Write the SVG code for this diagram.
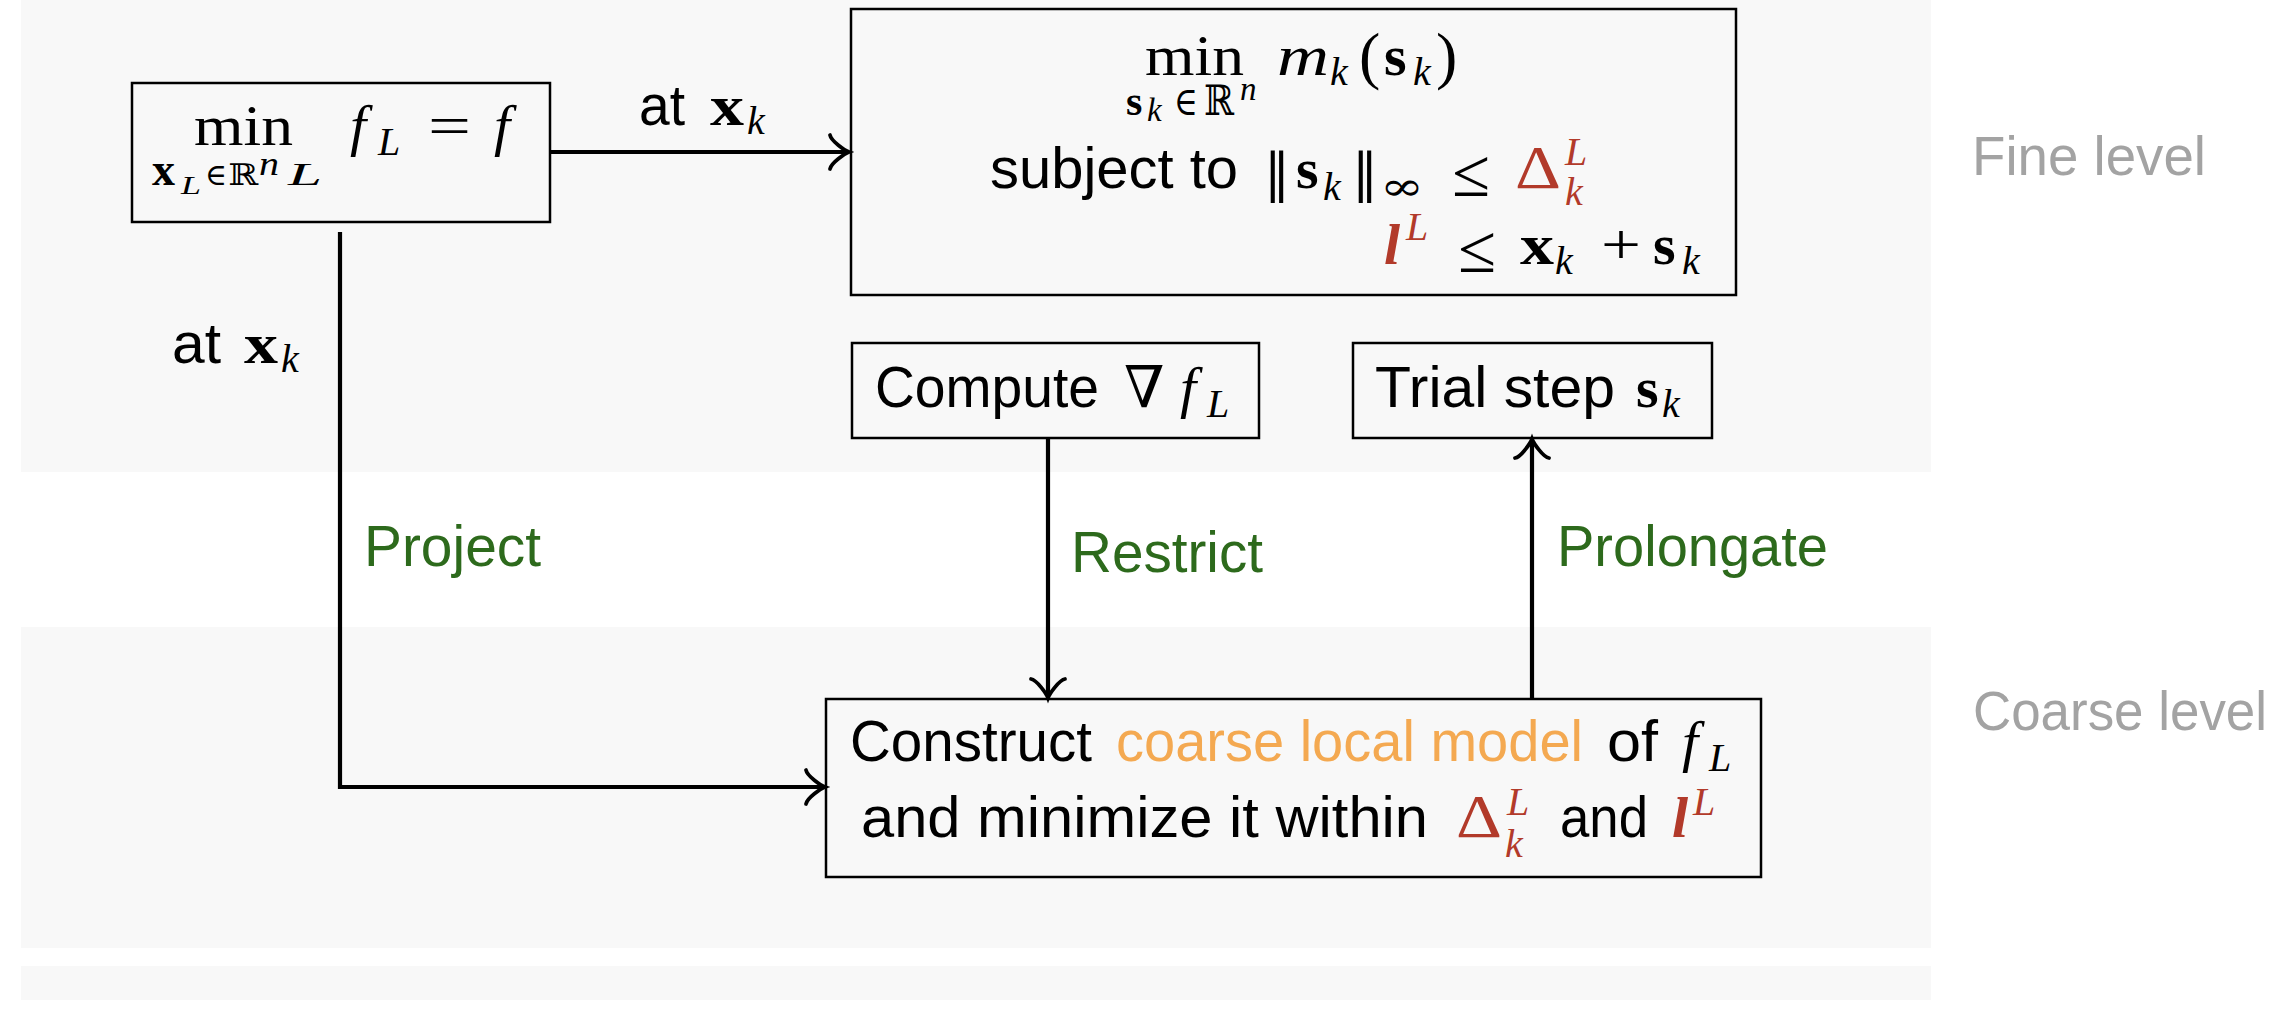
<svg xmlns="http://www.w3.org/2000/svg" width="2296" height="1018" viewBox="0 0 2296 1018">
<defs>
<style>
.band{fill:#f8f8f8}
.box{fill:none;stroke:#000;stroke-width:2.5}
.conn{fill:none;stroke:#000;stroke-width:4.2;stroke-linejoin:miter}
.s{font-family:"Liberation Sans",Arial,sans-serif;font-size:58px;fill:#000}
.lvl{font-family:"Liberation Sans",Arial,sans-serif;font-size:55px;fill:#a3a3a3}
.mi{font-family:"Liberation Serif","DejaVu Serif",serif;font-style:italic;font-size:58px;fill:#000}
.mr{font-family:"Liberation Serif","DejaVu Serif",serif;font-size:58px;fill:#000}
.mb{font-family:"Liberation Serif","DejaVu Serif",serif;font-weight:bold;font-size:58px;fill:#000}
.mbi{font-family:"Liberation Serif","DejaVu Serif",serif;font-weight:bold;font-style:italic;font-size:58px}
.sym{font-family:"DejaVu Serif","Liberation Serif",serif;font-size:58px;fill:#000}
.sc{font-size:40px}
.ss{font-size:33px}
.g{fill:#2d6a1c}
.o{fill:#f4a951}
.red{fill:#b23a2a}
</style>
<marker id="arr" markerUnits="userSpaceOnUse" viewBox="-22 -20 24 40" markerWidth="24" markerHeight="40" refX="-3" refY="0" orient="auto" overflow="visible">
<path d="M -19,-17 C -18,-11 -4,-1.5 0,0 C -4,1.5 -18,11 -19,17" fill="none" stroke="#000" stroke-width="3.8" stroke-linecap="round"/>
</marker>
</defs>

<g id="bands">
<rect class="band" x="21" y="0" width="1910" height="472"/>
<rect class="band" x="21" y="627" width="1910" height="321"/>
<rect class="band" x="21" y="966" width="1910" height="34"/>
<text class="lvl" x="1972" y="175" textLength="234" lengthAdjust="spacingAndGlyphs">Fine level</text>
<text class="lvl" x="1973" y="730" textLength="294" lengthAdjust="spacingAndGlyphs">Coarse level</text>
</g>

<g id="connectors">
<path class="conn" d="M 551,152 H 846" marker-end="url(#arr)"/>
<path class="conn" d="M 340,232 V 787 H 822" marker-end="url(#arr)"/>
<path class="conn" d="M 1048,439 V 695" marker-end="url(#arr)"/>
<path class="conn" d="M 1532,698 V 442" marker-end="url(#arr)"/>
</g>

<g id="edge-labels">
<text class="s" x="639" y="125" textLength="46" lengthAdjust="spacingAndGlyphs">at</text>
<text class="mb" x="710" y="125" textLength="34" lengthAdjust="spacingAndGlyphs">x</text>
<text class="mi sc" x="747" y="134">k</text>
<text class="s" x="172" y="363" textLength="49" lengthAdjust="spacingAndGlyphs">at</text>
<text class="mb" x="244" y="363" textLength="34" lengthAdjust="spacingAndGlyphs">x</text>
<text class="mi sc" x="281" y="372">k</text>
<text class="s g" x="364" y="566" textLength="177" lengthAdjust="spacingAndGlyphs">Project</text>
<text class="s g" x="1071" y="572" textLength="192" lengthAdjust="spacingAndGlyphs">Restrict</text>
<text class="s g" x="1557" y="566" textLength="271" lengthAdjust="spacingAndGlyphs">Prolongate</text>
</g>

<g id="node-fine-problem">
<rect class="box" x="132" y="83" width="418" height="139"/>
<text class="mr" x="194" y="145" textLength="99" lengthAdjust="spacingAndGlyphs">min</text>
<text class="mb" x="152" y="185" style="font-size:46px" textLength="23" lengthAdjust="spacingAndGlyphs">x</text>
<text class="mi" x="181" y="194" style="font-size:26px" textLength="20" lengthAdjust="spacingAndGlyphs">L</text>
<text class="sym" x="205" y="185" style="font-size:30px" textLength="22" lengthAdjust="spacingAndGlyphs">∈</text>
<text class="sym" x="228" y="185" style="font-size:30px" textLength="30" lengthAdjust="spacingAndGlyphs">ℝ</text>
<text class="mi" x="259" y="175" style="font-size:34px" textLength="20" lengthAdjust="spacingAndGlyphs">n</text>
<text class="mi" x="288" y="185" style="font-size:32px" textLength="34" lengthAdjust="spacingAndGlyphs">L</text>
<text class="mi" x="350" y="145">f</text>
<text class="mi sc" x="378" y="155">L</text>
<text class="mr" x="428" y="145" textLength="43" lengthAdjust="spacingAndGlyphs">=</text>
<text class="mi" x="494" y="145">f</text>
</g>

<g id="node-subproblem">
<rect class="box" x="851" y="9" width="885" height="286"/>
<text class="mr" x="1145" y="75" textLength="99" lengthAdjust="spacingAndGlyphs">min</text>
<text class="mb" x="1126" y="115" style="font-size:42px">s</text>
<text class="mi ss" x="1147" y="121">k</text>
<text class="sym" x="1174" y="115" style="font-size:40px" textLength="24" lengthAdjust="spacingAndGlyphs">∈</text>
<text class="sym" x="1204" y="115" style="font-size:42px" textLength="30" lengthAdjust="spacingAndGlyphs">ℝ</text>
<text class="mi ss" x="1240" y="100">n</text>
<text class="mi" x="1277" y="75" textLength="52" lengthAdjust="spacingAndGlyphs">m</text>
<text class="mi sc" x="1330" y="85">k</text>
<text class="mr" x="1359" y="77" style="font-size:64px">(</text>
<text class="mb" x="1384" y="75">s</text>
<text class="mi sc" x="1413" y="85">k</text>
<text class="mr" x="1436" y="77" style="font-size:64px">)</text>

<text class="s" x="990" y="188" textLength="248" lengthAdjust="spacingAndGlyphs">subject to</text>
<text class="sym" x="1264" y="191" style="font-size:52px">‖</text>
<text class="mb" x="1296" y="188">s</text>
<text class="mi sc" x="1323" y="200">k</text>
<text class="sym" x="1352" y="191" style="font-size:52px">‖</text>
<text class="sym sc" x="1380" y="200" textLength="44" lengthAdjust="spacingAndGlyphs">∞</text>
<text class="mr" x="1452" y="196" style="font-size:68px" textLength="38" lengthAdjust="spacingAndGlyphs">≤</text>
<text class="mr red" x="1515" y="188" style="font-size:62px" textLength="46" lengthAdjust="spacingAndGlyphs">Δ</text>
<text class="mi sc red" x="1565" y="165">L</text>
<text class="mi sc red" x="1565" y="205">k</text>

<text class="mbi red" x="1384" y="264">l</text>
<text class="mi sc red" x="1406" y="240">L</text>
<text class="mr" x="1458" y="272" style="font-size:68px" textLength="38" lengthAdjust="spacingAndGlyphs">≤</text>
<text class="mb" x="1520" y="264" textLength="34" lengthAdjust="spacingAndGlyphs">x</text>
<text class="mi sc" x="1555" y="274">k</text>
<text class="mr" x="1601" y="264" textLength="40" lengthAdjust="spacingAndGlyphs">+</text>
<text class="mb" x="1653" y="264">s</text>
<text class="mi sc" x="1682" y="274">k</text>
</g>

<g id="node-compute-gradient">
<rect class="box" x="852" y="343" width="407" height="95"/>
<text class="s" x="875" y="407" textLength="224" lengthAdjust="spacingAndGlyphs">Compute</text>
<text class="sym" x="1124" y="407">∇</text>
<text class="mi" x="1180" y="407">f</text>
<text class="mi sc" x="1207" y="417">L</text>
</g>

<g id="node-trial-step">
<rect class="box" x="1353" y="343" width="359" height="95"/>
<text class="s" x="1375" y="407" textLength="240" lengthAdjust="spacingAndGlyphs">Trial step</text>
<text class="mb" x="1636" y="407">s</text>
<text class="mi sc" x="1662" y="417">k</text>
</g>

<g id="node-coarse-model">
<rect class="box" x="826" y="699" width="935" height="178"/>
<text class="s" x="850" y="761" textLength="242" lengthAdjust="spacingAndGlyphs">Construct</text>
<text class="s o" x="1116" y="761" textLength="467" lengthAdjust="spacingAndGlyphs">coarse local model</text>
<text class="s" x="1607" y="761" textLength="51" lengthAdjust="spacingAndGlyphs">of</text>
<text class="mi" x="1682" y="761">f</text>
<text class="mi sc" x="1709" y="771">L</text>
<text class="s" x="861" y="837" textLength="567" lengthAdjust="spacingAndGlyphs">and minimize it within</text>
<text class="mr red" x="1456" y="837" style="font-size:62px" textLength="46" lengthAdjust="spacingAndGlyphs">Δ</text>
<text class="mi sc red" x="1507" y="815">L</text>
<text class="mi sc red" x="1505" y="857">k</text>
<text class="s" x="1560" y="837" textLength="88" lengthAdjust="spacingAndGlyphs">and</text>
<text class="mbi red" x="1672" y="837">l</text>
<text class="mi sc red" x="1693" y="815">L</text>
</g>
</svg>
